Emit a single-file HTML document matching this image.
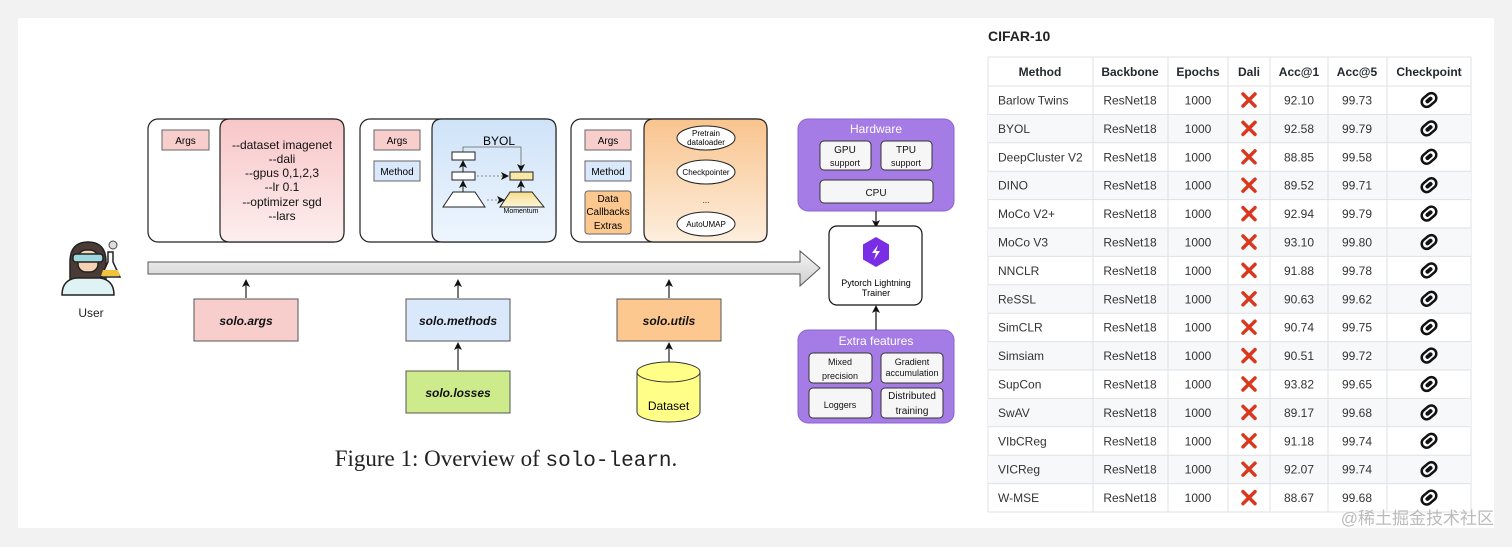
<!DOCTYPE html>
<html><head><meta charset="utf-8"><style>
html,body{margin:0;padding:0;background:#f2f2f2;}
svg{display:block;}
</style></head><body>
<svg width="1512" height="547" viewBox="0 0 1512 547" xmlns="http://www.w3.org/2000/svg" font-family="Liberation Sans, sans-serif">
<defs>
<linearGradient id="gp" x1="0" y1="0" x2="0" y2="1"><stop offset="0" stop-color="#f8c6c8"/><stop offset="1" stop-color="#fdeeee"/></linearGradient>
<linearGradient id="gb" x1="0" y1="0" x2="0" y2="1"><stop offset="0" stop-color="#cfe3f8"/><stop offset="1" stop-color="#eef5fd"/></linearGradient>
<linearGradient id="go" x1="0" y1="0" x2="0" y2="1"><stop offset="0" stop-color="#f9c48e"/><stop offset="1" stop-color="#fdeedd"/></linearGradient>
<linearGradient id="gy" x1="0" y1="0" x2="0" y2="1"><stop offset="0" stop-color="#f6dd8a"/><stop offset="1" stop-color="#fdf6dc"/></linearGradient>
<linearGradient id="ga" x1="0" y1="0" x2="0" y2="1"><stop offset="0" stop-color="#f4f4f4"/><stop offset="1" stop-color="#cfcfcf"/></linearGradient>
<marker id="ar" markerWidth="8" markerHeight="8" refX="6" refY="4" orient="auto" markerUnits="userSpaceOnUse"><path d="M0,0 L8,4 L0,8 L2,4 z" fill="#111"/></marker>
</defs>
<rect x="18" y="18" width="1476" height="510" fill="#fff"/>

<!-- user icon -->
<g stroke="#222" stroke-width="1.5">
<path d="M70,262 Q70,242 88,242 Q106,242 106,262 L106,282 L70,282 z" fill="#4a3b36"/>
<rect x="78" y="250" width="20" height="22" rx="8" fill="#f6d2b4"/>
<rect x="73" y="254" width="30" height="8" rx="3" fill="#9fd8de"/>
<path d="M62,295 Q62,280 76,278 L100,278 Q114,280 114,295 z" fill="#e0f3f4"/>
<path d="M108,252 L108,262 L101,277 L120,277 L113,262 L113,252 z" fill="#fff"/>
</g>
<path d="M103,270 L118,270 L120,276 L101,276 z" fill="#f2c23c"/>
<circle cx="113" cy="245" r="4" fill="#ddd" stroke="#444"/>
<text x="91" y="317" font-size="12" text-anchor="middle" fill="#222">User</text>

<!-- big arrow -->
<path d="M148,262 L800,262 L800,251 L820,268 L800,286 L800,274 L148,274 z" fill="url(#ga)" stroke="#555" stroke-width="1"/>

<!-- box1 -->
<rect x="148" y="119" width="196" height="123" rx="10" fill="#fff" stroke="#222" stroke-width="1.2"/>
<path d="M230,119 L334,119 Q344,119 344,129 L344,232 Q344,242 334,242 L230,242 Q220,242 220,232 L220,129 Q220,119 230,119 z" fill="url(#gp)" stroke="#222" stroke-width="1.2"/>
<rect x="162" y="130" width="47" height="20" fill="#f8cecc" stroke="#666"/>
<text x="185.5" y="144" font-size="10" text-anchor="middle">Args</text>
<g font-size="12" text-anchor="middle" fill="#111">
<text x="282" y="149">--dataset imagenet</text><text x="282" y="163">--dali</text><text x="282" y="177">--gpus 0,1,2,3</text><text x="282" y="191">--lr 0.1</text><text x="282" y="206">--optimizer sgd</text><text x="282" y="220">--lars</text></g>

<!-- box2 -->
<rect x="360" y="119" width="196" height="123" rx="10" fill="#fff" stroke="#222" stroke-width="1.2"/>
<path d="M442,119 L546,119 Q556,119 556,129 L556,232 Q556,242 546,242 L442,242 Q432,242 432,232 L432,129 Q432,119 442,119 z" fill="url(#gb)" stroke="#222" stroke-width="1.2"/>
<rect x="374" y="130" width="46" height="20" fill="#f8cecc" stroke="#666"/>
<text x="397" y="144" font-size="10" text-anchor="middle">Args</text>
<rect x="374" y="161" width="46" height="20" fill="#dae8fc" stroke="#666"/>
<text x="397" y="175" font-size="10" text-anchor="middle">Method</text>
<text x="499" y="145" font-size="12" text-anchor="middle">BYOL</text>
<path d="M463,152 L463,147 L521,147 L521,170" fill="none" stroke="#666" stroke-width="0.8" marker-end="url(#ar)"/>
<rect x="452" y="152" width="23" height="8" fill="#fff" stroke="#222"/>
<rect x="452" y="172" width="23" height="8" fill="#fff" stroke="#222"/>
<line x1="463" y1="172" x2="463" y2="162" stroke="#222" marker-end="url(#ar)"/>
<line x1="463" y1="192" x2="463" y2="182" stroke="#222" marker-end="url(#ar)"/>
<path d="M453,192 L475,192 L485,207 L443,207 z" fill="#fff" stroke="#222"/>
<rect x="510" y="172" width="23" height="8" fill="#fbe7a6" stroke="#222"/>
<path d="M510,192 L532,192 L544,207 L500,207 z" fill="url(#gy)" stroke="#222"/>
<line x1="521" y1="192" x2="521" y2="182" stroke="#222" marker-end="url(#ar)"/>
<line x1="477" y1="176" x2="507" y2="176" stroke="#888" stroke-dasharray="2,2" marker-end="url(#ar)"/>
<line x1="487" y1="200" x2="503" y2="200" stroke="#888" stroke-dasharray="2,2" marker-end="url(#ar)"/>
<text x="521" y="213" font-size="7" text-anchor="middle">Momentum</text>

<!-- box3 -->
<rect x="571" y="119" width="196" height="123" rx="10" fill="#fff" stroke="#222" stroke-width="1.2"/>
<path d="M654,119 L757,119 Q767,119 767,129 L767,232 Q767,242 757,242 L654,242 Q644,242 644,232 L644,129 Q644,119 654,119 z" fill="url(#go)" stroke="#222" stroke-width="1.2"/>
<rect x="585" y="130" width="46" height="20" fill="#f8cecc" stroke="#666"/>
<text x="608" y="144" font-size="10" text-anchor="middle">Args</text>
<rect x="585" y="161" width="46" height="20" fill="#dae8fc" stroke="#666"/>
<text x="608" y="175" font-size="10" text-anchor="middle">Method</text>
<rect x="585" y="191" width="46" height="43" rx="3" fill="#fcc890" stroke="#666"/>
<g font-size="10" text-anchor="middle"><text x="608" y="202">Data</text><text x="608" y="215">Callbacks</text><text x="608" y="229">Extras</text></g>
<g fill="#fff" stroke="#222"><ellipse cx="706" cy="138" rx="29" ry="12"/><ellipse cx="706" cy="172" rx="29" ry="12"/><ellipse cx="706" cy="224" rx="29" ry="12"/></g>
<g font-size="8" text-anchor="middle"><text x="706" y="136">Pretrain</text><text x="706" y="145">dataloader</text><text x="706" y="175">Checkpointer</text><text x="706" y="203">...</text><text x="706" y="227">AutoUMAP</text></g>

<!-- module boxes -->
<g stroke="#222" stroke-width="1.2">
<line x1="246" y1="298" x2="246" y2="281" marker-end="url(#ar)"/>
<line x1="458" y1="298" x2="458" y2="281" marker-end="url(#ar)"/>
<line x1="669" y1="298" x2="669" y2="281" marker-end="url(#ar)"/>
<line x1="458" y1="370" x2="458" y2="344" marker-end="url(#ar)"/>
<line x1="669" y1="362" x2="669" y2="344" marker-end="url(#ar)"/>
</g>
<g stroke="#555" stroke-width="1">
<rect x="194" y="299" width="104" height="42" fill="#f8cecc"/>
<rect x="406" y="299" width="104" height="42" fill="#dae8fc"/>
<rect x="617" y="299" width="104" height="42" fill="#fcc890"/>
<rect x="406" y="371" width="104" height="42" fill="#cdeb8b"/>
<path d="M637,372 L637,412 A31.5,10 0 0 0 700,412 L700,372" fill="#ffff88" stroke="#333"/>
<ellipse cx="668.5" cy="372" rx="31.5" ry="10" fill="#ffff88" stroke="#333"/>
</g>
<g font-size="12" font-style="italic" font-weight="bold" text-anchor="middle" fill="#111">
<text x="246" y="325">solo.args</text><text x="458" y="325">solo.methods</text><text x="669" y="325">solo.utils</text><text x="458" y="397">solo.losses</text></g>
<text x="668.5" y="410" font-size="12" text-anchor="middle">Dataset</text>

<!-- hardware -->
<rect x="798" y="119" width="156" height="92" rx="10" fill="#a57ce6" stroke="#8a63d2"/>
<text x="876" y="133" font-size="12" text-anchor="middle" fill="#fff">Hardware</text>
<rect x="798" y="330" width="156" height="93" rx="10" fill="#a57ce6" stroke="#8a63d2"/>
<text x="876" y="345" font-size="12" text-anchor="middle" fill="#fff">Extra features</text>
<g fill="#f6f6f6" stroke="#333"><rect x="820" y="141" width="51" height="29" rx="4"/><rect x="881" y="141" width="51" height="29" rx="4"/><rect x="820" y="180" width="113" height="23" rx="4"/>
<rect x="809" y="353" width="63" height="30" rx="4"/><rect x="881" y="353" width="62" height="30" rx="4"/><rect x="809" y="388" width="63" height="30" rx="4"/><rect x="881" y="388" width="62" height="30" rx="4"/></g>
<g font-size="10" text-anchor="middle" fill="#111"><text x="845" y="153">GPU</text><text x="845" y="166" font-size="9">support</text><text x="906" y="153">TPU</text><text x="906" y="166" font-size="9">support</text><text x="876" y="196">CPU</text>
<text x="840" y="365" font-size="9">Mixed</text><text x="840" y="379" font-size="9">precision</text><text x="912" y="365" font-size="9">Gradient</text><text x="912" y="376" font-size="9">accumulation</text><text x="840" y="408" font-size="9">Loggers</text><text x="912" y="399">Distributed</text><text x="912" y="414">training</text></g>
<line x1="876" y1="211" x2="876" y2="226" stroke="#111" stroke-width="1.2" marker-end="url(#ar)"/>
<rect x="829" y="226" width="93" height="79" rx="8" fill="#fff" stroke="#111" stroke-width="1.2"/>
<path d="M876,237 L889,244.5 L889,259.5 L876,267 L863,259.5 L863,244.5 z" fill="#792ee5"/>
<path d="M878,245 L872,253 L876,253 L874,260 L880,251 L876,251 z" fill="#fff"/>
<text x="876" y="286" font-size="9" text-anchor="middle">Pytorch Lightning</text>
<text x="876" y="296" font-size="9" text-anchor="middle">Trainer</text>
<line x1="876" y1="330" x2="876" y2="307" stroke="#111" stroke-width="1.2" marker-end="url(#ar)"/>

<!-- caption -->
<text x="506" y="466" font-size="23" text-anchor="middle" font-family="Liberation Serif, serif" fill="#222">Figure 1: Overview of <tspan font-family="Liberation Mono, monospace" font-size="21">solo-learn</tspan>.</text>

<!-- table -->
<text x="988" y="41" font-size="14" font-weight="bold" fill="#222">CIFAR-10</text>
<g font-size="12" fill="#24292e">
<rect x="988" y="57" width="483" height="455" fill="#fff" stroke="#dfe2e5"/>
<g fill="#f6f8fa">
<rect x="988" y="114.4" width="483" height="28.4"/><rect x="988" y="171.2" width="483" height="28.4"/><rect x="988" y="228" width="483" height="28.4"/><rect x="988" y="284.8" width="483" height="28.4"/><rect x="988" y="341.6" width="483" height="28.4"/><rect x="988" y="398.4" width="483" height="28.4"/><rect x="988" y="455.2" width="483" height="28.4"/></g>
<g stroke="#dfe2e5" stroke-width="1">
<line x1="1093" y1="57" x2="1093" y2="512"/><line x1="1168" y1="57" x2="1168" y2="512"/><line x1="1228" y1="57" x2="1228" y2="512"/><line x1="1270" y1="57" x2="1270" y2="512"/><line x1="1328" y1="57" x2="1328" y2="512"/><line x1="1387" y1="57" x2="1387" y2="512"/>
<line x1="988" y1="86" x2="1471" y2="86"/><line x1="988" y1="114.4" x2="1471" y2="114.4"/><line x1="988" y1="142.8" x2="1471" y2="142.8"/><line x1="988" y1="171.2" x2="1471" y2="171.2"/><line x1="988" y1="199.6" x2="1471" y2="199.6"/><line x1="988" y1="228" x2="1471" y2="228"/><line x1="988" y1="256.4" x2="1471" y2="256.4"/><line x1="988" y1="284.8" x2="1471" y2="284.8"/><line x1="988" y1="313.2" x2="1471" y2="313.2"/><line x1="988" y1="341.6" x2="1471" y2="341.6"/><line x1="988" y1="370" x2="1471" y2="370"/><line x1="988" y1="398.4" x2="1471" y2="398.4"/><line x1="988" y1="426.8" x2="1471" y2="426.8"/><line x1="988" y1="455.2" x2="1471" y2="455.2"/><line x1="988" y1="483.6" x2="1471" y2="483.6"/></g>
<g font-weight="bold" text-anchor="middle"><text x="1040" y="76">Method</text><text x="1130" y="76">Backbone</text><text x="1198" y="76">Epochs</text><text x="1249" y="76">Dali</text><text x="1299" y="76">Acc@1</text><text x="1357" y="76">Acc@5</text><text x="1429" y="76">Checkpoint</text></g>
</g>
<g font-size="12" fill="#333">
<g><text x="998" y="104.5">Barlow Twins</text><text x="998" y="132.9">BYOL</text><text x="998" y="161.3">DeepCluster V2</text><text x="998" y="189.7">DINO</text><text x="998" y="218.1">MoCo V2+</text><text x="998" y="246.5">MoCo V3</text><text x="998" y="274.9">NNCLR</text><text x="998" y="303.3">ReSSL</text><text x="998" y="331.7">SimCLR</text><text x="998" y="360.1">Simsiam</text><text x="998" y="388.5">SupCon</text><text x="998" y="416.9">SwAV</text><text x="998" y="445.3">VIbCReg</text><text x="998" y="473.7">VICReg</text><text x="998" y="502.1">W-MSE</text></g>
<g text-anchor="middle">
<text x="1130" y="104.5">ResNet18</text><text x="1130" y="132.9">ResNet18</text><text x="1130" y="161.3">ResNet18</text><text x="1130" y="189.7">ResNet18</text><text x="1130" y="218.1">ResNet18</text><text x="1130" y="246.5">ResNet18</text><text x="1130" y="274.9">ResNet18</text><text x="1130" y="303.3">ResNet18</text><text x="1130" y="331.7">ResNet18</text><text x="1130" y="360.1">ResNet18</text><text x="1130" y="388.5">ResNet18</text><text x="1130" y="416.9">ResNet18</text><text x="1130" y="445.3">ResNet18</text><text x="1130" y="473.7">ResNet18</text><text x="1130" y="502.1">ResNet18</text>
<text x="1198" y="104.5">1000</text><text x="1198" y="132.9">1000</text><text x="1198" y="161.3">1000</text><text x="1198" y="189.7">1000</text><text x="1198" y="218.1">1000</text><text x="1198" y="246.5">1000</text><text x="1198" y="274.9">1000</text><text x="1198" y="303.3">1000</text><text x="1198" y="331.7">1000</text><text x="1198" y="360.1">1000</text><text x="1198" y="388.5">1000</text><text x="1198" y="416.9">1000</text><text x="1198" y="445.3">1000</text><text x="1198" y="473.7">1000</text><text x="1198" y="502.1">1000</text>
<text x="1299" y="104.5">92.10</text><text x="1299" y="132.9">92.58</text><text x="1299" y="161.3">88.85</text><text x="1299" y="189.7">89.52</text><text x="1299" y="218.1">92.94</text><text x="1299" y="246.5">93.10</text><text x="1299" y="274.9">91.88</text><text x="1299" y="303.3">90.63</text><text x="1299" y="331.7">90.74</text><text x="1299" y="360.1">90.51</text><text x="1299" y="388.5">93.82</text><text x="1299" y="416.9">89.17</text><text x="1299" y="445.3">91.18</text><text x="1299" y="473.7">92.07</text><text x="1299" y="502.1">88.67</text>
<text x="1357" y="104.5">99.73</text><text x="1357" y="132.9">99.79</text><text x="1357" y="161.3">99.58</text><text x="1357" y="189.7">99.71</text><text x="1357" y="218.1">99.79</text><text x="1357" y="246.5">99.80</text><text x="1357" y="274.9">99.78</text><text x="1357" y="303.3">99.62</text><text x="1357" y="331.7">99.75</text><text x="1357" y="360.1">99.72</text><text x="1357" y="388.5">99.65</text><text x="1357" y="416.9">99.68</text><text x="1357" y="445.3">99.74</text><text x="1357" y="473.7">99.74</text><text x="1357" y="502.1">99.68</text>
</g></g>
<g id="icons">
<path d="M1243,94 L1255,106 M1255,94 L1243,106" stroke="#d9381e" stroke-width="3.5" stroke-linecap="round"/>
<g transform="rotate(-40 1429 100)"><rect x="1421" y="95" width="16" height="10" rx="5" fill="none" stroke="#111" stroke-width="2.5"/><rect x="1425" y="98" width="8" height="4" rx="2" fill="#111"/></g>
</g>
<use href="#icons" y="28.4"/><use href="#icons" y="56.8"/><use href="#icons" y="85.2"/><use href="#icons" y="113.6"/><use href="#icons" y="142"/><use href="#icons" y="170.4"/><use href="#icons" y="198.8"/><use href="#icons" y="227.2"/><use href="#icons" y="255.6"/><use href="#icons" y="284"/><use href="#icons" y="312.4"/><use href="#icons" y="340.8"/><use href="#icons" y="369.2"/><use href="#icons" y="397.6"/>
<text x="1494" y="524" font-size="17" text-anchor="end" fill="#bbb" font-family="Liberation Sans, Noto Sans CJK SC, sans-serif">@稀土掘金技术社区</text>
</svg>
</body></html>
